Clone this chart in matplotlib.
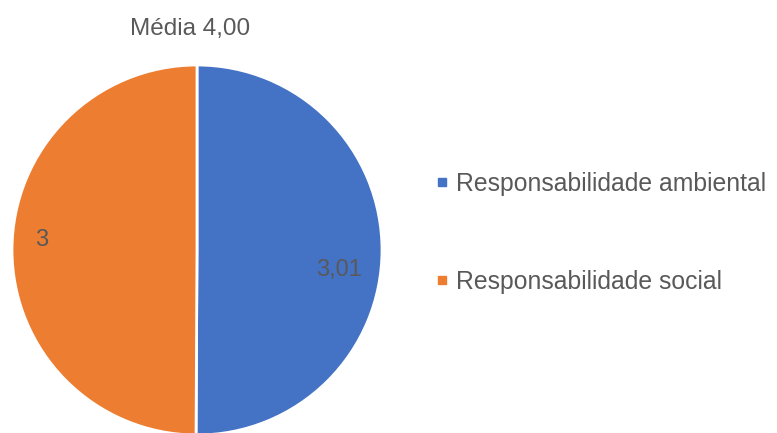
import matplotlib.pyplot as plt
from matplotlib.lines import Line2D

# dados
categorias = ['Responsabilidade ambiental', 'Responsabilidade social']
valores = [3.01, 3]
rotulos = ['3,01', '3']
cores = ['#4472C4', '#ED7D31']
titulo = 'Média 4,00'

plt.rcParams['font.family'] = ['Liberation Sans', 'DejaVu Sans']
cinza = '#595959'

fig = plt.figure(figsize=(7.77, 4.33), dpi=100)
ax = fig.add_axes([12 / 777, -2 / 433, 370 / 777, 370 / 433])

ax.pie(valores, colors=cores, startangle=90, counterclock=False,
       wedgeprops={'edgecolor': 'white', 'linewidth': 2})
ax.set_xlim(-1, 1)
ax.set_ylim(-1, 1)
ax.set_aspect('equal')

# rotulos dentro das fatias
ax.text(0.768, -0.108, rotulos[0], ha='center', va='center', fontsize=17, color=cinza)
ax.text(-0.84, 0.054, rotulos[1], ha='center', va='center', fontsize=17, color=cinza)

fig.text(190 / 777, 1 - 29 / 433, titulo, ha='center', va='center',
         fontsize=17.5, color=cinza)

handles = [Line2D([], [], marker='s', linestyle='', markersize=5.5, color=c) for c in cores]
fig.legend(handles, categorias, loc='center left', bbox_to_anchor=(410 / 777, 1 - 233 / 433),
           frameon=False, fontsize=17.8, labelcolor=cinza, handletextpad=0.15,
           labelspacing=3.0, handlelength=0.8)

fig.savefig('out.png', dpi=100)
